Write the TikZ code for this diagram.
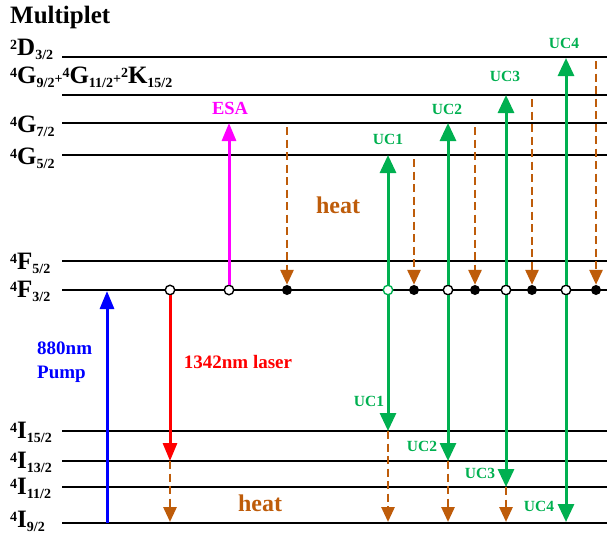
\documentclass[tikz,border=0pt]{standalone}
\usepackage{fontspec}
\setmainfont{Liberation Serif}
\usetikzlibrary{arrows.meta}
\definecolor{ucgreen}{RGB}{0,176,80}
\definecolor{heatbrown}{RGB}{190,92,10}
\definecolor{esamag}{RGB}{255,0,255}
\newcommand{\sps}[1]{\raisebox{6pt}{\fontsize{14}{14}\selectfont #1}}
\newcommand{\sbs}[1]{\raisebox{-4pt}{\fontsize{14}{14}\selectfont #1}}
\newcommand{\pls}{{\fontsize{14}{14}\selectfont +}}
\begin{document}
\begin{tikzpicture}[x=1pt,y=-1pt,
  level/.style={line width=2.8pt, black},
  lvllab/.style={anchor=base west, inner sep=0pt, font=\fontsize{25}{30}\selectfont\bfseries},
  tlab/.style={inner sep=0pt, font=\bfseries},
  pumparrow/.style={color=blue, line width=3pt, -{Triangle[width=14pt,length=18pt]}},
  laserarrow/.style={color=red, line width=3pt, -{Triangle[width=14pt,length=18pt]}},
  esaarrow/.style={color=esamag, line width=3pt, -{Triangle[width=14pt,length=18pt]}},
  heatarrow/.style={color=heatbrown, line width=2.8pt, dash pattern=on 8pt off 4.5pt, -{Triangle[width=13pt,length=15pt]}},
  ucarrow/.style={color=ucgreen, line width=3pt, -{Triangle[width=16pt,length=18pt]}},
  opendot/.style={circle, draw=black, fill=white, line width=1.4pt, minimum size=9.5pt, inner sep=0pt},
  greendot/.style={opendot, draw=ucgreen},
  filldot/.style={circle, fill=black, minimum size=10pt, inner sep=0pt}
]
\useasboundingbox (0,0) rectangle (607,533);

% levels
\foreach \n/\y in {D32/57, G92/95, G72/123, G52/155, F52/261, F32/290, I152/431, I132/461, I112/487, I92/523} {
  \coordinate (\n a) at (62,\y);
  \coordinate (\n b) at (607,\y);
  \draw[level] (\n a) -- (\n b);
}

% level labels
\node[lvllab] (mult) at (10,23) {Multiplet};
\node[lvllab] (lD32) at (10,55) {\sps{2}D\sbs{3/2}};
\node[lvllab] (lG92) at (10,83) {\sps{4}G\sbs{9/2}\pls\sps{4}G\sbs{11/2}\pls\sps{2}K\sbs{15/2}};
\node[lvllab] (lG72) at (10,132) {\sps{4}G\sbs{7/2}};
\node[lvllab] (lG52) at (10,164) {\sps{4}G\sbs{5/2}};
\node[lvllab] (lF52) at (10,269) {\sps{4}F\sbs{5/2}};
\node[lvllab] (lF32) at (10,297) {\sps{4}F\sbs{3/2}};
\node[lvllab] (lI152) at (10,438) {\sps{4}I\sbs{15/2}};
\node[lvllab] (lI132) at (10,468) {\sps{4}I\sbs{13/2}};
\node[lvllab] (lI112) at (10,494) {\sps{4}I\sbs{11/2}};
\node[lvllab] (lI92) at (10,527) {\sps{4}I\sbs{9/2}};

% pump
\coordinate (pb) at (107,523);
\coordinate (pt) at (107,291);
\draw[pumparrow] (pb) -- (pt);
\node[tlab, anchor=west, text=blue, font=\fontsize{19}{24}\selectfont\bfseries, align=left] (pumplab) at (37,362) {880nm\\Pump};

% laser
\node[opendot] (c1) at (170,290) {};
\coordinate (r1) at (170,461);
\coordinate (r2) at (170,522);
\draw[laserarrow] (c1) -- (r1);
\draw[heatarrow] (r1) -- (r2);
\node[tlab, text=red, font=\fontsize{19}{24}\selectfont\bfseries] (laserlab) at (238,362) {1342nm laser};

% ESA
\node[opendot] (c2) at (229,290) {};
\coordinate (e1) at (229,123);
\draw[esaarrow] (c2) -- (e1);
\node[tlab, text=esamag, font=\fontsize{18.5}{22}\selectfont\bfseries] (esalab) at (230,108) {ESA};

% heat from 4G7/2
\node[filldot] (d1) at (287,290) {};
\coordinate (h1) at (287,127);
\draw[heatarrow] (h1) -- (d1);
\node[tlab, text=heatbrown, font=\fontsize{24}{28}\selectfont\bfseries] (heat1) at (338,205) {heat};
\node[tlab, text=heatbrown, font=\fontsize{24}{28}\selectfont\bfseries] (heat2) at (260,503) {heat};

% UC1
\node[greendot] (g1) at (388,290) {};
\coordinate (u1t) at (388,155);
\coordinate (u1b) at (388,431);
\coordinate (u1z) at (388,522);
\draw[ucarrow] (g1) -- (u1t);
\draw[ucarrow] (g1) -- (u1b);
\draw[heatarrow] (u1b) -- (u1z);
\node[filldot] (d2) at (414,290) {};
\coordinate (h2) at (414,159);
\draw[heatarrow] (h2) -- (d2);

% UC2
\node[opendot] (g2) at (448,290) {};
\coordinate (u2t) at (448,123);
\coordinate (u2b) at (448,461);
\coordinate (u2z) at (448,522);
\draw[ucarrow] (g2) -- (u2t);
\draw[ucarrow] (g2) -- (u2b);
\draw[heatarrow] (u2b) -- (u2z);
\node[filldot] (d3) at (475,290) {};
\coordinate (h3) at (475,127);
\draw[heatarrow] (h3) -- (d3);

% UC3
\node[opendot] (g3) at (506,290) {};
\coordinate (u3t) at (506,95);
\coordinate (u3b) at (506,487);
\coordinate (u3z) at (506,522);
\draw[ucarrow] (g3) -- (u3t);
\draw[ucarrow] (g3) -- (u3b);
\draw[heatarrow] (u3b) -- (u3z);
\node[filldot] (d4) at (532,290) {};
\coordinate (h4) at (532,99);
\draw[heatarrow] (h4) -- (d4);

% UC4
\node[opendot] (g4) at (566,290) {};
\coordinate (u4t) at (566,58);
\coordinate (u4b) at (566,522);
\draw[ucarrow] (g4) -- (u4t);
\draw[ucarrow] (g4) -- (u4b);
\node[filldot] (d5) at (596,290) {};
\coordinate (h5) at (596,61);
\draw[heatarrow] (h5) -- (d5);

% UC labels
\tikzset{uclab/.style={tlab, text=ucgreen, font=\fontsize{15.5}{18}\selectfont\bfseries}}
\node[uclab] (uc1t) at (388,139) {UC1};
\node[uclab] (uc2t) at (447,109) {UC2};
\node[uclab] (uc3t) at (505,76) {UC3};
\node[uclab] (uc4t) at (564,43) {UC4};
\node[uclab] (uc1b) at (369,401) {UC1};
\node[uclab] (uc2b) at (422,446) {UC2};
\node[uclab] (uc3b) at (480,473) {UC3};
\node[uclab] (uc4b) at (539,506) {UC4};
\end{tikzpicture}
\end{document}
